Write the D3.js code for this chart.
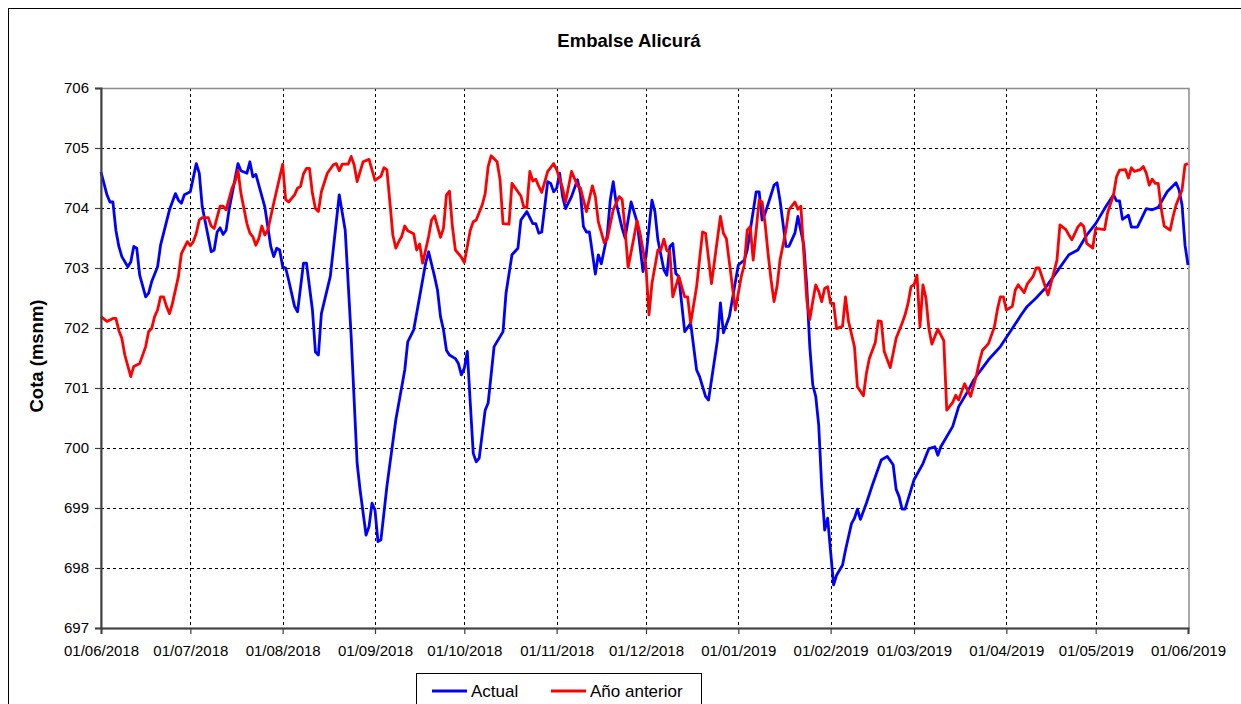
<!DOCTYPE html>
<html lang="es">
  <head>
    <meta charset="utf-8" />
    <script src="https://d3js.org/d3.v7.min.js"></script>
    <style>
      body { margin: 0; background: #fff; }
      svg { display: block; font-family: Arial, "Liberation Sans", sans-serif; }
    </style>
  </head>
  <body>
    <div id="chart"></div>
    <script>
      // ---- data (day offset from 01/06/2018, level in msnm) ----
      var actualDays = [0,2,3,4,5,6,7,9,10,11,12,13,15,16,17,19,20,23,25,26,27,28,30,32,33,34,37,38,39,40,41,42,43,46,47,49,50,51,52,55,57,58,59,60,61,62,63,65,66,68,69,71,72,73,74,77,80,82,84,86,87,89,90,91,92,93,94,96,99,102,103,105,107,109,110,112,113,114,115,116,117,119,120,121,122,123,124,125,126,127,129,130,132,135,136,138,140,141,143,145,146,147,148,150,151,152,153,154,155,156,158,160,161,162,163,164,166,167,168,170,171,172,173,175,176,178,180,182,183,185,186,187,189,190,191,192,193,194,196,198,200,201,203,204,207,208,209,211,214,216,217,220,221,222,223,225,226,227,228,230,231,233,234,236,237,238,239,240,241,242,243,244,245,246,247,249,250,252,253,254,255,257,259,262,264,266,267,268,269,270,273,276,278,280,281,282,286,288,291,293,295,298,302,306,309,311,314,317,321,325,328,331,334,337,340,341,342,343,345,346,348,351,353,355,358,361,362,363,364,365];
      var actualValues = [704.6,704.22,704.1,704.1,703.63,703.36,703.19,703.02,703.1,703.36,703.33,702.88,702.52,702.58,702.77,703.02,703.38,703.97,704.24,704.13,704.08,704.22,704.27,704.74,704.58,704.02,703.27,703.3,703.6,703.67,703.56,703.63,703.97,704.74,704.62,704.58,704.77,704.52,704.56,704.02,703.36,703.19,703.33,703.3,703.02,703.0,702.8,702.36,702.27,703.08,703.08,702.3,701.6,701.55,702.24,702.86,704.22,703.63,701.86,699.75,699.3,698.55,698.69,699.08,698.97,698.44,698.47,699.36,700.47,701.3,701.77,701.97,702.52,703.08,703.27,702.86,702.63,702.19,701.97,701.63,701.55,701.49,701.41,701.22,701.33,701.61,700.75,699.91,699.77,699.83,700.63,700.75,701.69,701.94,702.58,703.22,703.33,703.8,703.94,703.74,703.74,703.58,703.6,704.44,704.41,704.27,704.33,704.58,704.19,703.99,704.19,704.47,704.24,703.69,703.6,703.6,702.9,703.22,703.07,703.55,704.13,704.44,704.08,703.66,703.5,704.1,703.77,702.94,703.19,704.13,703.94,703.47,702.97,702.88,703.36,703.41,702.91,702.86,701.94,702.08,701.3,701.19,700.86,700.8,701.8,702.42,701.92,702.19,703.05,703.13,703.3,704.27,704.27,703.8,703.91,704.22,704.38,704.42,704.13,703.36,703.36,703.58,703.86,703.38,702.69,701.69,701.05,700.86,700.38,699.36,698.63,698.83,698.27,697.72,697.88,698.05,698.3,698.74,698.83,698.98,698.81,699.08,699.38,699.8,699.86,699.72,699.31,699.19,698.98,698.98,699.47,699.74,699.99,700.02,699.88,700.02,700.36,700.69,700.94,701.13,701.27,701.47,701.69,701.99,702.22,702.36,702.5,702.66,702.94,703.22,703.3,703.55,703.74,703.99,704.22,704.12,704.12,703.81,703.88,703.68,703.68,703.99,703.97,704.01,704.27,704.42,704.3,704.05,703.38,703.05];

      var prevDays = [0,2,4,5,6,7,8,10,11,13,15,16,17,18,19,20,21,22,23,24,26,27,29,30,31,32,33,34,36,37,38,40,41,42,44,45,46,47,49,50,51,52,53,54,55,56,58,61,62,63,65,66,67,68,69,70,71,72,73,74,76,78,79,80,81,83,84,85,86,88,90,92,94,95,96,97,98,99,100,101,102,103,105,106,107,108,110,111,112,114,115,116,117,118,119,121,122,124,125,126,128,129,130,131,133,134,135,137,138,140,141,142,143,144,145,146,147,148,150,152,153,155,156,158,160,161,163,165,166,167,169,170,172,174,175,176,177,179,180,181,183,184,185,187,188,189,190,191,192,194,196,197,198,200,202,203,205,208,209,210,213,215,216,217,218,219,220,221,222,223,224,225,226,227,228,230,231,233,234,235,236,237,238,239,240,241,242,243,244,245,246,247,249,250,251,253,254,256,257,258,260,261,262,263,265,266,267,269,270,271,272,273,274,275,276,277,278,279,280,281,283,284,286,287,288,289,290,292,294,295,296,298,300,301,302,303,304,306,307,308,310,311,313,314,315,318,321,322,324,325,326,328,329,330,331,333,334,337,338,340,341,342,344,345,346,347,349,350,351,352,353,354,355,356,357,359,360,361,363,364,365];
      var prevValues = [702.19,702.11,702.16,702.16,701.96,701.83,701.55,701.19,701.36,701.41,701.69,701.94,701.99,702.19,702.3,702.52,702.52,702.36,702.24,702.41,702.86,703.24,703.44,703.37,703.44,703.58,703.8,703.84,703.84,703.7,703.66,704.03,704.03,703.97,704.33,704.44,704.63,704.24,703.74,703.58,703.52,703.38,703.49,703.7,703.55,703.63,704.08,704.73,704.14,704.1,704.22,704.33,704.36,704.57,704.66,704.66,704.24,703.99,703.94,704.27,704.58,704.72,704.74,704.62,704.73,704.73,704.86,704.72,704.44,704.77,704.81,704.46,704.53,704.67,704.64,704.1,703.55,703.33,703.44,703.53,703.7,703.62,703.57,703.3,703.4,703.08,703.52,703.8,703.87,703.51,703.66,704.22,704.28,703.69,703.3,703.18,703.09,703.63,703.77,703.8,704.05,704.24,704.69,704.87,704.77,704.47,703.74,703.73,704.41,704.27,704.2,704.01,704.01,704.61,704.45,704.48,704.36,704.26,704.61,704.74,704.64,704.33,704.1,704.61,704.37,704.33,703.94,704.37,704.19,703.77,703.42,703.49,703.97,704.19,704.14,703.63,703.01,703.52,703.79,703.58,703.02,702.22,702.74,703.3,703.3,703.48,703.29,703.27,702.52,702.86,702.52,702.52,702.08,702.69,703.6,703.58,702.74,703.86,703.58,703.49,702.3,702.86,703.05,703.63,703.69,703.13,703.63,704.13,704.1,703.74,703.24,702.8,702.44,702.69,703.13,703.63,703.97,704.1,703.98,704.03,703.24,702.47,702.14,702.44,702.72,702.61,702.44,702.66,702.69,702.41,702.41,701.99,702.03,702.52,702.11,701.69,701.02,700.87,701.24,701.49,701.76,702.12,702.11,701.61,701.34,701.58,701.83,702.08,702.22,702.41,702.69,702.72,702.88,702.02,702.72,702.5,701.99,701.73,701.86,701.98,701.79,700.63,700.76,700.88,700.8,700.94,701.07,700.86,701.22,701.45,701.63,701.74,702.02,702.31,702.52,702.52,702.3,702.36,702.63,702.72,702.59,702.73,702.86,703.0,703.0,702.55,703.13,703.72,703.64,703.55,703.47,703.68,703.74,703.69,703.41,703.33,703.66,703.64,703.92,704.22,704.52,704.63,704.64,704.5,704.67,704.61,704.64,704.69,704.58,704.38,704.48,704.41,704.41,703.99,703.7,703.63,703.86,704.05,704.3,704.72,704.74,704.59];

      var yTicks = [697, 698, 699, 700, 701, 702, 703, 704, 705, 706];
      var seriesNames = ["Actual", "Año anterior"];
      var seriesColors = ["#0000ff", "#ff0000"];

      var W = 1241, H = 704;
      var start = new Date(2018, 5, 1), end = new Date(2019, 5, 1);

      var svg = d3.select("#chart").append("svg")
        .attr("width", W).attr("height", H);

      // outer chart frame
      svg.append("rect")
        .attr("x", 8.5).attr("y", 8.5)
        .attr("width", 1260).attr("height", 740)
        .attr("fill", "none").attr("stroke", "#000").attr("stroke-width", 1);

      var x = d3.scaleTime().domain([start, end]).range([101, 1188]);
      var y = d3.scaleLinear().domain([697, 706]).range([628, 88]);

      var months = d3.timeMonth.range(start, d3.timeDay.offset(end, 1));

      // grid
      var grid = svg.append("g");
      grid.selectAll("line.h")
        .data(yTicks.filter(function (d) { return d > 697 && d < 706; }))
        .enter().append("line")
        .attr("x1", 101).attr("x2", 1188)
        .attr("y1", function (d) { return Math.round(y(d)) + 0.5; })
        .attr("y2", function (d) { return Math.round(y(d)) + 0.5; })
        .attr("stroke", "#000").attr("stroke-dasharray", "3,3");
      grid.selectAll("line.v")
        .data(months.slice(1, -1))
        .enter().append("line")
        .attr("x1", function (d) { return Math.round(x(d)) + 0.5; })
        .attr("x2", function (d) { return Math.round(x(d)) + 0.5; })
        .attr("y1", 88).attr("y2", 628)
        .attr("stroke", "#000").attr("stroke-dasharray", "3,3");

      // plot border (top / right gray)
      svg.append("rect")
        .attr("x", 101).attr("y", 88.5)
        .attr("width", 1088).attr("height", 540)
        .attr("fill", "none").attr("stroke", "#8c8c8c").attr("stroke-width", 1.5);

      // series: Actual first, Año anterior drawn on top
      var line = d3.line()
        .x(function (d) { return x(d3.timeDay.offset(start, d[0])); })
        .y(function (d) { return y(d[1]); });

      var series = [
        d3.zip(actualDays, actualValues),
        d3.zip(prevDays, prevValues)
      ];
      svg.selectAll("path.serie")
        .data(series)
        .enter().append("path")
        .attr("class", "serie")
        .attr("d", line)
        .attr("fill", "none")
        .attr("stroke", function (d, i) { return seriesColors[i]; })
        .attr("stroke-width", 2.8)
        .attr("stroke-linejoin", "round");

      // axes
      var xAxis = svg.append("g")
        .attr("transform", "translate(0,628)")
        .call(d3.axisBottom(x).tickValues(months).tickSize(6)
          .tickFormat(d3.timeFormat("%d/%m/%Y")));
      var yAxis = svg.append("g")
        .attr("transform", "translate(101,0)")
        .call(d3.axisLeft(y).tickValues(yTicks).tickSize(6).tickFormat(d3.format("d")));

      [xAxis, yAxis].forEach(function (a) {
        a.select(".domain").attr("stroke", "#404040").attr("stroke-width", 2);
        a.selectAll(".tick line").attr("stroke", "#404040").attr("stroke-width", 1.2);
        a.selectAll("text").attr("fill", "#000")
          .style("font-size", "15px").style("font-family", "Arial, 'Liberation Sans', sans-serif");
      });
      xAxis.selectAll("text").attr("dy", "1.25em");
      yAxis.selectAll("text").attr("x", -12);

      // title
      svg.append("text")
        .attr("x", 629).attr("y", 47)
        .attr("text-anchor", "middle")
        .style("font-size", "18.5px").style("font-weight", "bold")
        .text("Embalse Alicurá");

      // y label
      svg.append("text")
        .attr("transform", "translate(43,356) rotate(-90)")
        .attr("text-anchor", "middle")
        .style("font-size", "18.5px").style("font-weight", "bold")
        .text("Cota (msnm)");

      // legend
      var legend = svg.append("g");
      legend.append("rect")
        .attr("x", 416.5).attr("y", 673.5)
        .attr("width", 285).attr("height", 50)
        .attr("fill", "#fff").attr("stroke", "#000");
      var legX = [432, 551];
      seriesNames.forEach(function (n, i) {
        legend.append("line")
          .attr("x1", legX[i]).attr("x2", legX[i] + 35)
          .attr("y1", 691).attr("y2", 691)
          .attr("stroke", seriesColors[i]).attr("stroke-width", 2.8);
        legend.append("text")
          .attr("x", legX[i] + 39).attr("y", 697)
          .style("font-size", "17px")
          .text(n);
      });
    </script>
  </body>
</html>
